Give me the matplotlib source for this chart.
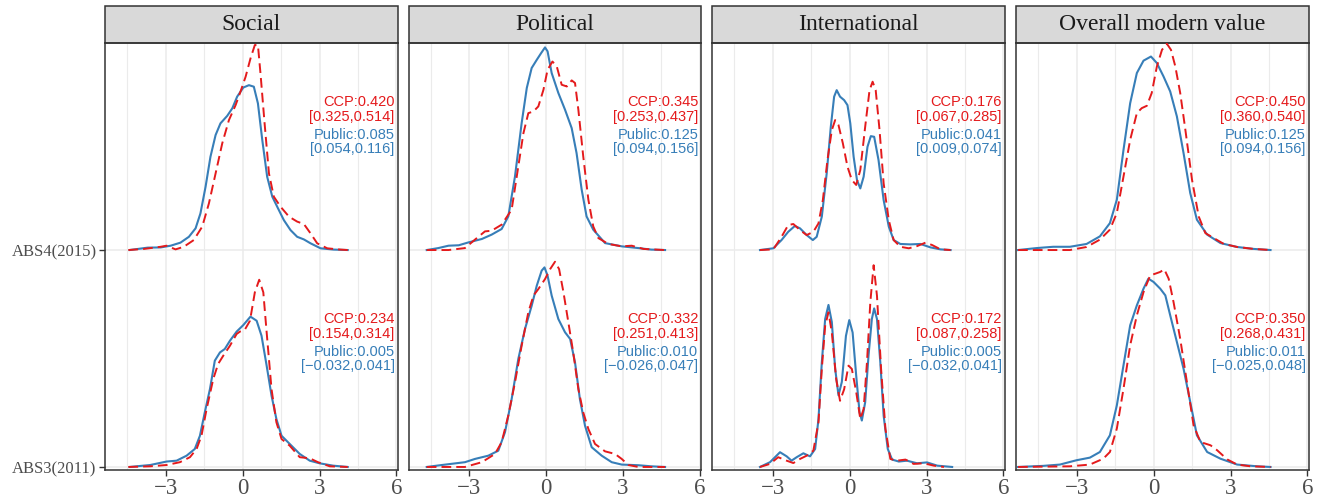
import numpy as np
import matplotlib.pyplot as plt
from matplotlib.patches import Rectangle

plt.rcParams['font.family'] = ['Liberation Serif', 'DejaVu Serif']

facets = ['Social', 'Political', 'International', 'Overall modern value']
waves = ['ABS3(2011)', 'ABS4(2015)']

# density curves, heights in units of ridge spacing
# --- Social
soc15_pub_x = [-4.4, -3.7, -3.19, -2.8, -2.42, -2.09, -1.83, -1.64, -1.44, -1.25, -1.05, -0.86, -0.6, -0.4, -0.21, 0.03, 0.25, 0.44, 0.6, 0.77, 0.96, 1.16, 1.35, 1.61, 1.87, 2.13, 2.39, 2.65, 3.04, 3.56, 4.1]
soc15_pub_h = [0, .011, .012, .020, .034, .061, .100, .169, .292, .430, .530, .584, .618, .653, .707, .749, .760, .753, .676, .507, .338, .246, .200, .138, .092, .061, .049, .031, .008, .002, 0]
soc15_ccp_x = [-4.45, -3.85, -3.19, -2.96, -2.61, -2.29, -1.9, -1.57, -1.31, -1.05, -0.79, -0.53, -0.27, -0.08, 0.12, 0.31, 0.48, 0.6, 0.7, 0.86, 1.03, 1.22, 1.48, 1.81, 2.13, 2.39, 2.65, 2.91, 3.3, 3.82, 4.1]
soc15_ccp_h = [0, .005, .015, .020, .003, .015, .046, .108, .215, .353, .492, .599, .668, .730, .799, .883, .945, .945, .814, .584, .353, .246, .200, .154, .131, .120, .077, .031, .008, .002, 0]
soc11_pub_x = [-4.4, -3.6, -2.96, -2.57, -2.18, -1.86, -1.66, -1.47, -1.27, -1.08, -0.88, -0.69, -0.49, -0.23, 0.03, 0.31, 0.55, 0.74, 0.94, 1.13, 1.32, 1.52, 1.84, 2.23, 2.62, 3.0, 3.53, 4.1]
soc11_pub_h = [0, .009, .025, .029, .052, .083, .144, .252, .359, .490, .528, .544, .582, .624, .654, .693, .674, .605, .467, .329, .221, .144, .106, .060, .029, .017, .006, 0]
soc11_ccp_x = [-4.45, -3.6, -2.96, -2.44, -2.05, -1.79, -1.6, -1.4, -1.14, -0.95, -0.75, -0.49, -0.23, -0.1, 0.09, 0.29, 0.48, 0.65, 0.81, 0.94, 1.13, 1.32, 1.52, 1.84, 2.23, 2.62, 2.94, 3.4, 4.1]
soc11_ccp_h = [0, .003, .009, .022, .045, .083, .144, .267, .406, .475, .513, .559, .613, .624, .633, .674, .805, .863, .805, .621, .359, .206, .129, .098, .045, .040, .022, .003, 0]

# --- Political
pol15_pub_x = [-4.65, -4.2, -3.8, -3.4, -3.03, -2.5, -2.12, -1.73, -1.47, -1.21, -0.95, -0.75, -0.56, -0.36, -0.19, -0.04, 0.06, 0.22, 0.48, 0.74, 1.0, 1.19, 1.39, 1.58, 1.84, 2.3, 2.95, 3.6, 4.1, 4.64]
pol15_pub_h = [0, .009, .020, .022, .035, .051, .071, .097, .155, .339, .585, .747, .839, .877, .908, .934, .916, .816, .724, .647, .562, .447, .278, .155, .094, .032, .017, .009, .002, 0]
pol15_ccp_x = [-4.65, -3.8, -3.16, -2.77, -2.38, -2.12, -1.73, -1.34, -1.08, -0.88, -0.69, -0.49, -0.3, -0.1, 0.06, 0.25, 0.42, 0.61, 0.81, 1.0, 1.13, 1.26, 1.45, 1.65, 1.84, 2.04, 2.43, 2.95, 3.34, 3.8, 4.64]
pol15_ccp_h = [0, 0, .009, .048, .086, .089, .117, .186, .386, .539, .631, .639, .662, .739, .831, .869, .846, .762, .754, .782, .770, .647, .432, .232, .109, .055, .028, .017, .020, .005, 0]
pol11_pub_x = [-4.65, -4.06, -3.16, -2.77, -2.25, -1.86, -1.6, -1.34, -1.08, -0.82, -0.56, -0.36, -0.17, -0.06, 0.06, 0.22, 0.48, 0.74, 0.94, 1.13, 1.32, 1.52, 1.78, 2.17, 2.56, 2.95, 3.6, 4.1, 4.64]
pol11_pub_h = [0, .009, .022, .037, .052, .075, .160, .313, .498, .636, .743, .836, .905, .920, .882, .790, .682, .621, .590, .482, .313, .190, .091, .052, .022, .011, .008, .003, 0]
pol11_ccp_x = [-4.65, -3.16, -2.5, -1.99, -1.73, -1.47, -1.21, -0.95, -0.69, -0.49, -0.3, -0.04, 0.16, 0.35, 0.51, 0.68, 0.87, 1.06, 1.26, 1.45, 1.65, 1.91, 2.3, 2.69, 2.95, 3.21, 3.6, 4.64]
pol11_ccp_h = [0, 0, .022, .060, .114, .237, .390, .559, .713, .790, .820, .866, .912, .946, .912, .805, .667, .528, .359, .252, .175, .106, .072, .060, .037, .009, 0, 0]

# --- International
int15_pub_x = [-3.49, -2.97, -2.65, -2.39, -2.13, -1.93, -1.67, -1.43, -1.28, -1.08, -0.89, -0.73, -0.6, -0.5, -0.37, -0.21, -0.08, 0.03, 0.16, 0.29, 0.42, 0.55, 0.7, 0.83, 0.96, 1.13, 1.33, 1.53, 1.72, 1.98, 2.37, 2.76, 3.16, 3.55, 3.94]
int15_pub_h = [0, .008, .046, .084, .111, .100, .069, .046, .061, .154, .353, .568, .707, .737, .707, .691, .668, .584, .430, .323, .284, .338, .476, .525, .522, .415, .230, .108, .046, .028, .026, .028, .012, .003, 0]
int15_ccp_x = [-3.49, -2.97, -2.65, -2.39, -2.19, -1.93, -1.67, -1.41, -1.21, -1.04, -0.86, -0.69, -0.56, -0.43, -0.26, -0.08, 0.09, 0.26, 0.42, 0.61, 0.78, 0.9, 1.02, 1.17, 1.33, 1.53, 1.72, 1.98, 2.31, 2.63, 2.96, 3.22, 3.55, 3.94]
int15_ccp_h = [0, .003, .061, .115, .120, .092, .069, .084, .123, .230, .415, .553, .599, .576, .492, .384, .323, .300, .369, .568, .737, .776, .737, .553, .307, .138, .046, .015, .008, .018, .034, .023, .003, 0]
int11_pub_x = [-3.49, -3.1, -2.71, -2.45, -2.26, -2.06, -1.8, -1.54, -1.34, -1.21, -1.08, -0.95, -0.82, -0.69, -0.56, -0.43, -0.3, -0.14, -0.01, 0.12, 0.26, 0.39, 0.48, 0.61, 0.74, 0.87, 0.96, 1.07, 1.2, 1.33, 1.49, 1.66, 1.92, 2.24, 2.63, 3.02, 3.42, 4.0]
int11_pub_h = [0, .022, .068, .049, .029, .045, .063, .049, .083, .221, .482, .682, .747, .668, .453, .330, .392, .604, .677, .620, .421, .252, .214, .298, .513, .682, .731, .682, .482, .236, .083, .034, .025, .029, .017, .021, .006, 0]
int11_ccp_x = [-3.49, -3.1, -2.78, -2.45, -2.19, -1.93, -1.67, -1.41, -1.21, -1.08, -0.95, -0.82, -0.69, -0.52, -0.37, -0.21, -0.04, 0.09, 0.26, 0.42, 0.55, 0.68, 0.81, 0.94, 1.07, 1.23, 1.4, 1.59, 1.85, 2.18, 2.5, 2.89, 3.29, 3.68]
int11_ccp_h = [0, .014, .045, .029, .018, .037, .052, .075, .206, .452, .651, .713, .620, .405, .305, .358, .467, .452, .346, .221, .267, .482, .759, .930, .789, .452, .175, .037, .029, .034, .014, .017, .006, 0]

# --- Overall modern value
all15_pub_x = [-5.28, -4.56, -3.91, -3.26, -2.61, -2.09, -1.7, -1.43, -1.17, -0.91, -0.65, -0.39, -0.1, 0.13, 0.39, 0.65, 0.91, 1.17, 1.43, 1.69, 2.09, 2.61, 3.26, 3.91, 4.56]
all15_pub_h = [0, .009, .015, .015, .028, .063, .124, .232, .462, .677, .816, .873, .892, .862, .800, .731, .616, .447, .263, .140, .071, .032, .014, .005, 0]
all15_ccp_x = [-5.28, -3.26, -2.61, -2.09, -1.7, -1.43, -1.17, -0.91, -0.65, -0.46, -0.26, -0.07, 0.13, 0.33, 0.52, 0.68, 0.85, 1.04, 1.24, 1.5, 1.76, 2.02, 2.35, 2.74, 3.26, 3.91, 4.56]
all15_ccp_h = [0, 0, .014, .048, .094, .171, .339, .508, .631, .654, .665, .724, .846, .923, .951, .923, .846, .724, .555, .324, .155, .078, .055, .028, .014, .005, 0]
all11_pub_x = [-5.28, -4.3, -3.65, -3.0, -2.48, -2.09, -1.7, -1.43, -1.17, -0.91, -0.65, -0.39, -0.2, 0.0, 0.26, 0.46, 0.65, 0.91, 1.17, 1.43, 1.69, 2.09, 2.61, 3.26, 4.04, 4.56]
all11_pub_h = [0, .005, .011, .031, .043, .069, .146, .284, .469, .653, .745, .822, .868, .853, .822, .791, .699, .576, .453, .300, .146, .069, .038, .011, .003, 0]
all11_ccp_x = [-5.28, -3.26, -2.48, -1.96, -1.7, -1.43, -1.17, -0.91, -0.65, -0.39, -0.13, 0.07, 0.26, 0.42, 0.59, 0.78, 1.04, 1.3, 1.56, 1.83, 2.22, 2.48, 2.87, 3.26, 3.78, 4.56]
all11_ccp_h = [0, .003, .011, .038, .069, .177, .361, .561, .699, .806, .883, .891, .899, .911, .868, .760, .591, .392, .192, .115, .100, .077, .035, .011, .003, 0]

# estimates and intervals shown on each ridge
ccp15_est = [0.420, 0.345, 0.176, 0.450]
ccp15_ci = [(0.325, 0.514), (0.253, 0.437), (0.067, 0.285), (0.360, 0.540)]
pub15_est = [0.085, 0.125, 0.041, 0.125]
pub15_ci = [(0.054, 0.116), (0.094, 0.156), (0.009, 0.074), (0.094, 0.156)]
ccp11_est = [0.234, 0.332, 0.172, 0.350]
ccp11_ci = [(0.154, 0.314), (0.251, 0.413), (0.087, 0.258), (0.268, 0.431)]
pub11_est = [0.005, 0.010, 0.005, 0.011]
pub11_ci = [(-0.032, 0.041), (-0.026, 0.047), (-0.032, 0.041), (-0.025, 0.048)]

curves = [
    [((soc11_pub_x, soc11_pub_h), (soc11_ccp_x, soc11_ccp_h)),
     ((soc15_pub_x, soc15_pub_h), (soc15_ccp_x, soc15_ccp_h))],
    [((pol11_pub_x, pol11_pub_h), (pol11_ccp_x, pol11_ccp_h)),
     ((pol15_pub_x, pol15_pub_h), (pol15_ccp_x, pol15_ccp_h))],
    [((int11_pub_x, int11_pub_h), (int11_ccp_x, int11_ccp_h)),
     ((int15_pub_x, int15_pub_h), (int15_ccp_x, int15_ccp_h))],
    [((all11_pub_x, all11_pub_h), (all11_ccp_x, all11_ccp_h)),
     ((all15_pub_x, all15_pub_h), (all15_ccp_x, all15_ccp_h))],
]
labels = [(ccp11_est, ccp11_ci, pub11_est, pub11_ci),
          (ccp15_est, ccp15_ci, pub15_est, pub15_ci)]

RED = '#E41A1C'
BLUE = '#377EB8'


def fmt(v):
    return ('%.3f' % v).replace('-', '\u2212')


W, H = 1328, 499
fig = plt.figure(figsize=(W / 100, H / 100), dpi=100)
lefts = [105, 408.5, 712, 1016]
pw = 292.5
top, bot = 43.3, 470
strip_h = 37 / (bot - top)

for i, facet in enumerate(facets):
    ax = fig.add_axes([lefts[i] / W, (H - bot) / H, pw / W, (bot - top) / H])
    for row in range(2):
        (px, ph), (cx, ch) = curves[i][row]
        ax.plot(px, row + np.array(ph), color=BLUE, lw=1.5, solid_joinstyle='round', zorder=3)
        ax.plot(cx, row + np.array(ch), color=RED, lw=1.4, ls=(0, (5, 2.6)),
                dash_joinstyle='round', zorder=4)
        ce, cci, pe, pci = labels[row]
        lines = [('CCP:' + fmt(ce[i]), RED, 0.683),
                 ('[%s,%s]' % (fmt(cci[i][0]), fmt(cci[i][1])), RED, 0.614),
                 ('Public:' + fmt(pe[i]), BLUE, 0.532),
                 ('[%s,%s]' % (fmt(pci[i][0]), fmt(pci[i][1])), BLUE, 0.465)]
        for txt, col, off in lines:
            ax.text(5.93, row + off, txt, color=col, ha='right', va='center',
                    fontsize=10.5, family=['Liberation Sans', 'DejaVu Sans'], zorder=5)

    ax.set_xlim(-5.36, 6.04)
    ax.set_ylim(-0.014, 1.953)
    ax.set_xticks([-3, 0, 3, 6])
    ax.set_xticks([-4.5, -1.5, 1.5, 4.5], minor=True)
    ax.set_yticks([0, 1])
    ax.grid(which='major', color='#EBEBEB', lw=1.1, zorder=0)
    ax.grid(which='minor', axis='x', color='#EBEBEB', lw=0.8, zorder=0)
    ax.set_axisbelow(True)
    for s in ax.spines.values():
        s.set_color('#333333')
        s.set_linewidth(1.1)
    ax.tick_params(axis='x', which='major', length=4, width=1, color='#333333',
                   labelsize=16.5, labelcolor='#4D4D4D', pad=1.5)
    ax.tick_params(which='minor', length=0)
    if i == 0:
        ax.set_yticklabels([waves[0], waves[1]])
        ax.tick_params(axis='y', length=4, width=1, color='#333333',
                       labelsize=12, labelcolor='#4D4D4D', pad=2)
    else:
        ax.tick_params(axis='y', length=0, labelleft=False)

    ax.add_patch(Rectangle((0, 1), 1, strip_h, transform=ax.transAxes, clip_on=False,
                           facecolor='#D9D9D9', edgecolor='#333333', lw=1.1))
    ax.text(0.5, 1 + strip_h / 2, facet, transform=ax.transAxes, ha='center',
            va='center', fontsize=17, color='#1A1A1A')

fig.savefig('out.png', dpi=100)
